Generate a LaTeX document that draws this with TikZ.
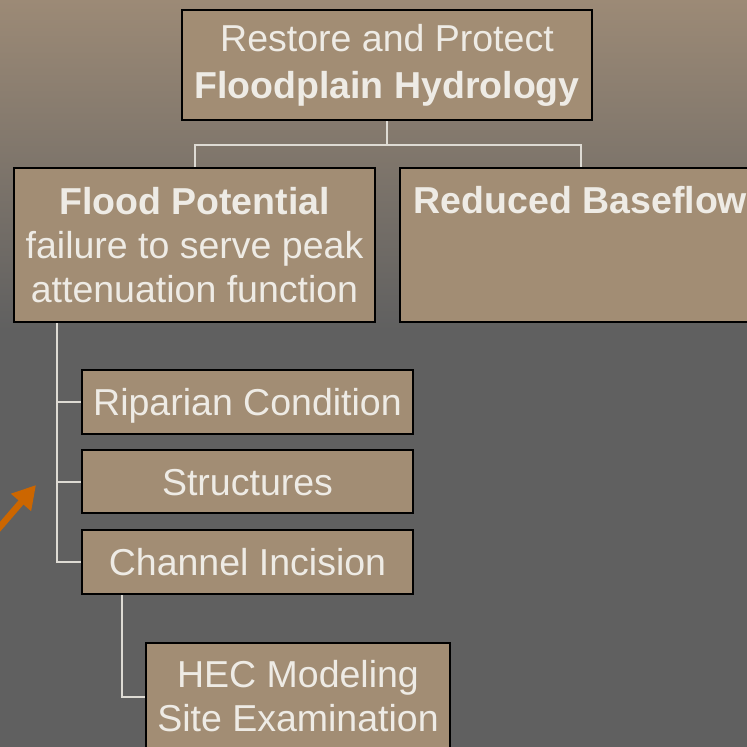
\documentclass[tikz,border=0pt]{standalone}
\usepackage{fontspec}
\setmainfont{Liberation Sans}
\usetikzlibrary{arrows.meta}
\definecolor{boxtan}{RGB}{162,141,116}
\definecolor{bgtop}{RGB}{156,138,118}
\definecolor{bggray}{RGB}{96,96,96}
\definecolor{txtlight}{RGB}{238,235,229}
\definecolor{linelight}{RGB}{222,219,212}
\definecolor{arroworange}{RGB}{204,102,0}
\tikzset{
  box/.style={draw=black, line width=2pt, fill=boxtan, text=txtlight, inner sep=0pt,
    align=center, font=\fontsize{37.5}{44}\selectfont},
  onerow/.style={box, minimum width=331pt, text height=27pt, text depth=0pt},
  conn/.style={draw=linelight, line width=2pt},
}

\begin{document}
\begin{tikzpicture}[x=1pt,y=-1pt]
        \useasboundingbox (0,0) rectangle (747,747);
        \clip (0,0) rectangle (747,747);
        % background
        \shade[top color=bgtop, bottom color=bggray] (0,0) rectangle (747,330);
        \fill[bggray] (0,329) rectangle (747,747);

        % boxes
        \node[box, minimum width=410pt, minimum height=110pt, font=\fontsize{37.5}{47}\selectfont]
          (goal) at (387,65) {Restore and Protect\\\textbf{Floodplain Hydrology}};
        \node[box, minimum width=361pt, minimum height=154pt] (flood) at (194.5,245)
          {\textbf{Flood Potential}\\failure to serve peak\\attenuation function};
        \node[box, minimum width=361pt, minimum height=154pt] (baseflow) at (580.5,245)
          {\textbf{Reduced Baseflow}\\[-12pt]\strut\\\strut};
        \node[onerow, minimum height=64pt] (riparian) at (247.5,402) {Riparian Condition};
        \node[onerow, minimum height=63pt] (structures) at (247.5,481.5) {Structures};
        \node[onerow, minimum height=64pt] (incision) at (247.5,562) {Channel Incision};
        \node[box, minimum width=304pt, minimum height=107pt] (hec) at (298,696.5)
          {HEC Modeling\\Site Examination};

        % connectors
        \draw[conn] (goal.south) -- ++(0,24) -| (flood.north);
        \draw[conn] (goal.south) -- ++(0,24) -| (baseflow.north);
        \draw[conn] ([xshift=44pt]flood.south west) |- (riparian.west);
        \draw[conn] ([xshift=44pt]flood.south west) |- (structures.west);
        \draw[conn] ([xshift=44pt]flood.south west) |- (incision.west);
        \draw[conn] ([xshift=41pt]incision.south west) |- (hec.west);

        % pointer
        \coordinate (arrowtail) at (-20,550);
        \coordinate (arrowtip) at (36,485);
        \draw[arroworange, line width=6.5pt, -{Triangle[length=23pt,width=25pt]}] (arrowtail) -- (arrowtip);
    \end{tikzpicture}
\end{document}
